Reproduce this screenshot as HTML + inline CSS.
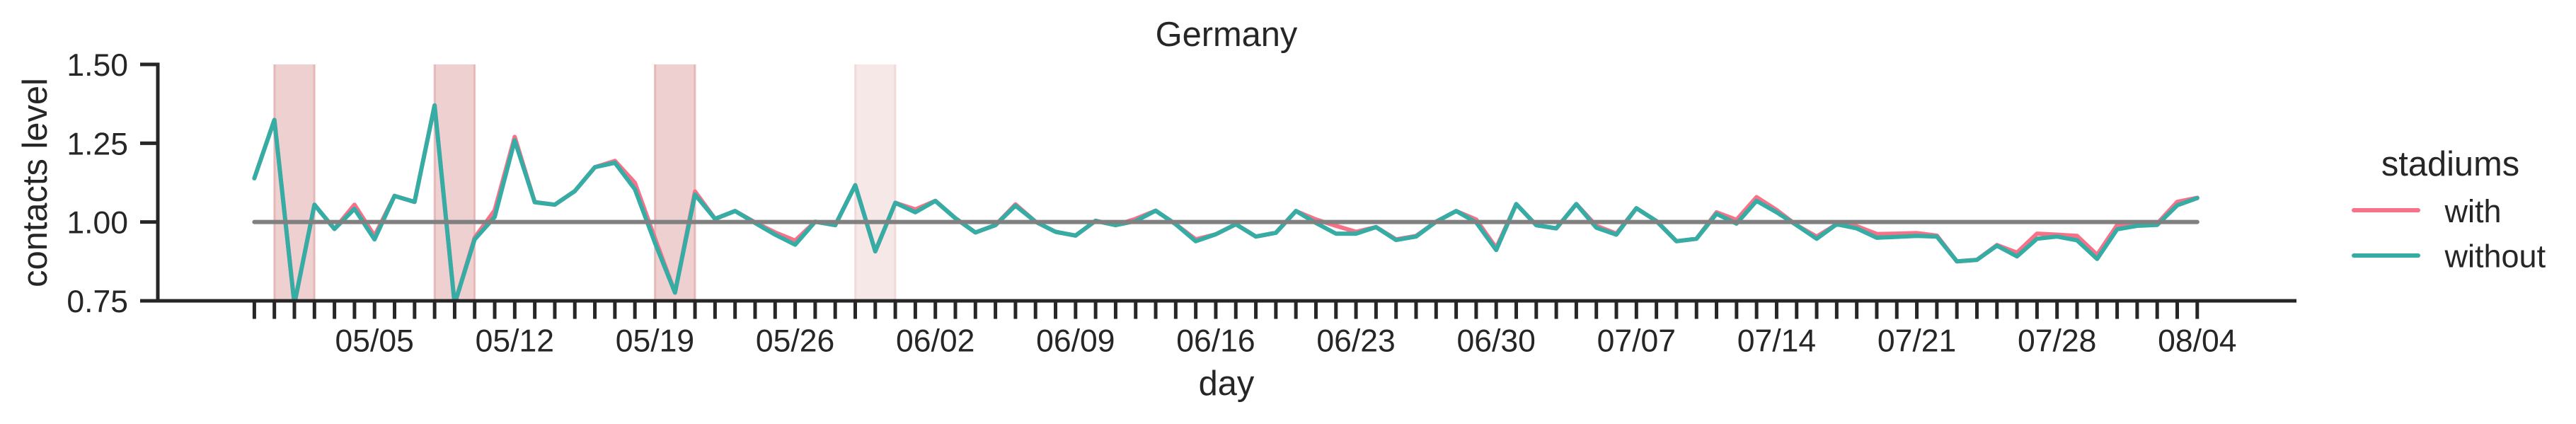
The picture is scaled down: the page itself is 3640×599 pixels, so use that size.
<!DOCTYPE html>
<html lang="en">
<head>
<meta charset="utf-8">
<title>Germany contacts level</title>
<style>
html,body{margin:0;padding:0;background:#fff;width:3640px;height:599px;overflow:hidden}
svg{display:block}
text{font-family:"Liberation Sans",Arial,sans-serif;fill:#262626}
</style>
</head>
<body>
<svg id="chart" xmlns="http://www.w3.org/2000/svg" width="3640" height="599" viewBox="0 0 3640 599">
  <defs><clipPath id="plot-clip"><rect x="223" y="91" width="3022" height="334"/></clipPath></defs>
  <rect x="0" y="0" width="3640" height="599" fill="#fff"/>
  <g id="bands" clip-path="url(#plot-clip)"></g>
  <g id="series" clip-path="url(#plot-clip)"></g>
  <g id="axes"></g>
  <text x="1733" y="65" font-size="48.8" text-anchor="middle">Germany</text>
  <text x="1733" y="558" font-size="48.8" text-anchor="middle">day</text>
  <text x="66" y="258" font-size="48.8" text-anchor="middle" transform="rotate(-90 66 258)">contacts level</text>
  <g>
    <text x="3462.5" y="248" font-size="48.8" text-anchor="middle">stadiums</text>
    <line x1="3326" y1="297" x2="3417" y2="297" stroke="#f77189" stroke-width="6" stroke-linecap="round"/>
    <text x="3454.5" y="314" font-size="45">with</text>
    <line x1="3326" y1="361" x2="3417" y2="361" stroke="#36ada4" stroke-width="6" stroke-linecap="round"/>
    <text x="3454.5" y="377.5" font-size="45">without</text>
  </g>
</svg>
<script>
const days = ["04/29","04/30",
"05/01","05/02","05/03","05/04","05/05","05/06","05/07","05/08","05/09","05/10","05/11","05/12","05/13","05/14","05/15","05/16","05/17","05/18","05/19","05/20","05/21","05/22","05/23","05/24","05/25","05/26","05/27","05/28","05/29","05/30","05/31",
"06/01","06/02","06/03","06/04","06/05","06/06","06/07","06/08","06/09","06/10","06/11","06/12","06/13","06/14","06/15","06/16","06/17","06/18","06/19","06/20","06/21","06/22","06/23","06/24","06/25","06/26","06/27","06/28","06/29","06/30",
"07/01","07/02","07/03","07/04","07/05","07/06","07/07","07/08","07/09","07/10","07/11","07/12","07/13","07/14","07/15","07/16","07/17","07/18","07/19","07/20","07/21","07/22","07/23","07/24","07/25","07/26","07/27","07/28","07/29","07/30","07/31",
"08/01","08/02","08/03","08/04"];
const withStadiums = [1.139,1.324,0.74,1.055,0.978,1.055,0.956,1.083,1.064,1.370,0.74,0.950,1.037,1.270,1.063,1.055,1.098,1.174,1.194,1.124,
0.948,0.776,1.097,1.010,1.035,0.999,0.967,0.941,1.001,0.990,1.117,0.907,1.061,1.040,1.067,1.012,0.967,0.990,1.056,1.001,
0.969,0.957,1.004,0.990,1.010,1.036,0.993,0.945,0.961,0.993,0.954,0.966,1.035,1.008,0.988,0.969,0.984,0.945,0.956,1.001,
1.035,1.008,0.918,1.057,0.990,0.980,1.057,0.988,0.963,1.044,1.003,0.939,0.947,1.031,1.007,1.079,1.038,0.990,0.954,0.993,
0.987,0.962,0.963,0.965,0.957,0.875,0.880,0.927,0.903,0.963,0.960,0.956,0.896,0.990,0.993,0.995,1.064,1.077];
const withoutStadiums = [1.139,1.324,0.74,1.055,0.978,1.042,0.945,1.083,1.064,1.370,0.74,0.945,1.016,1.259,1.063,1.055,1.098,1.174,1.188,1.104,
0.934,0.776,1.087,1.010,1.035,0.997,0.960,0.928,1.001,0.990,1.117,0.907,1.061,1.031,1.067,1.012,0.967,0.990,1.052,1.001,
0.969,0.957,1.004,0.990,1.003,1.036,0.993,0.939,0.961,0.993,0.954,0.966,1.035,0.997,0.963,0.963,0.984,0.943,0.954,1.001,
1.035,0.999,0.911,1.057,0.990,0.980,1.057,0.982,0.960,1.044,1.003,0.939,0.947,1.026,0.995,1.067,1.031,0.990,0.947,0.993,
0.980,0.950,0.953,0.956,0.954,0.875,0.880,0.925,0.891,0.947,0.954,0.942,0.883,0.977,0.988,0.991,1.053,1.076];
const baseline = 1.0;
const yTicks = [0.75,1.00,1.25,1.50];
const yTickLabels = ["0.75","1.00","1.25","1.50"];
const xTickLabels = ["05/05","05/12","05/19","05/26","06/02","06/09","06/16","06/23","06/30","07/07","07/14","07/21","07/28","08/04"];
const bandStarts = ["04/30","05/08","05/19","05/29"];
const bandEnds = ["05/02","05/10","05/21","05/31"];
const bandStrengths = [1,1,1,0.5];

const NS = "http://www.w3.org/2000/svg";
function xScale(i){ return 359.4 + i * (3104.8 - 359.4) / (days.length - 1); }
function yScale(v){ return 425 - (v - 0.75) * (425 - 91) / 0.75; }
function make(tag, attrs, parent){
  const el = document.createElementNS(NS, tag);
  for (const k in attrs) el.setAttribute(k, attrs[k]);
  parent.appendChild(el);
  return el;
}
const bandsG = document.getElementById("bands");
const seriesG = document.getElementById("series");
const axesG = document.getElementById("axes");

bandStarts.forEach(function(start, n){
  const x0 = xScale(days.indexOf(start));
  const x1 = xScale(days.indexOf(bandEnds[n]));
  const top = yScale(1.5);
  const bottom = yScale(0.75);
  const el = make("rect", {x:x0-1.5, y:top, width:x1-x0+3, height:bottom-top,
    fill:"rgb(178,34,34)", "fill-opacity":0.21*bandStrengths[n]}, bandsG);
  
  
  const edgeLeft = make("line", {x1:x0+0.5, y1:top, x2:x0+0.5, y2:bottom,
    stroke:"rgb(178,34,34)", "stroke-opacity":0.14*bandStrengths[n], "stroke-width":2.5}, bandsG);
  
  
  const edgeRight = make("line", {x1:x1-0.5, y1:top, x2:x1-0.5, y2:bottom,
    stroke:"rgb(178,34,34)", "stroke-opacity":0.14*bandStrengths[n], "stroke-width":2.5}, bandsG);
  
  
});

function linePoints(values){
  return values.map(function(v,i){ return xScale(i).toFixed(1)+","+yScale(v).toFixed(1); }).join(" ");
}
const withLine = make("polyline", {points:linePoints(withStadiums), fill:"none", stroke:"#f77189", "stroke-width":6, "stroke-linecap":"round", "stroke-linejoin":"round"}, seriesG);


const withoutLine = make("polyline", {points:linePoints(withoutStadiums), fill:"none", stroke:"#36ada4", "stroke-width":6, "stroke-linecap":"round", "stroke-linejoin":"round"}, seriesG);


const baseLine = make("line", {x1:xScale(0), y1:yScale(baseline), x2:xScale(days.length-1), y2:yScale(baseline), stroke:"#808080", "stroke-width":6, "stroke-linecap":"round"}, seriesG);



const ySpine = make("line", {x1:223, y1:88.5, x2:223, y2:427.5, stroke:"#262626", "stroke-width":5}, axesG);


const xSpine = make("line", {x1:220.5, y1:425, x2:3245, y2:425, stroke:"#262626", "stroke-width":5}, axesG);



yTicks.forEach(function(v, n){
  const y = yScale(v);
  const tick = make("line", {x1:198, y1:y, x2:223, y2:y, stroke:"#262626", "stroke-width":5}, axesG);
  
  
  const label = make("text", {x:181, y:y+16, "font-size":44.5, "text-anchor":"end"}, axesG);
  
  
  label.textContent = yTickLabels[n];
});
days.forEach(function(d, i){
  const x = xScale(i);
  const tick = make("line", {x1:x, y1:425, x2:x, y2:450.5, stroke:"#262626", "stroke-width":5}, axesG);
  
  
});
xTickLabels.forEach(function(d){
  const label = make("text", {x:xScale(days.indexOf(d)), y:496.5, "font-size":44.5, "text-anchor":"middle"}, axesG);
  
  
  label.textContent = d;
});
</script>
</body>
</html>
